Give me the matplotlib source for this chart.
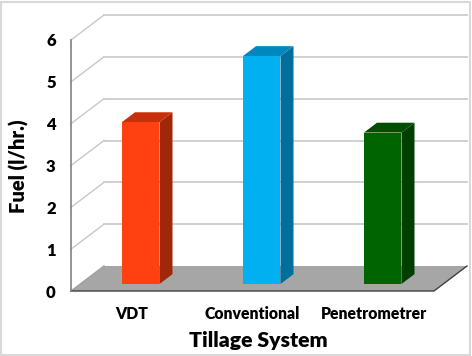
import matplotlib
matplotlib.use("Agg")
import matplotlib.pyplot as plt
from matplotlib.patches import Polygon, Rectangle
import numpy as np

categories = ["VDT", "Conventional", "Penetrometrer"]
values = [3.87, 5.45, 3.62]
front_colors = ["#FF4010", "#00B0F0", "#006400"]
side_colors = ["#A02808", "#006F9A", "#003F00"]
top_colors = ["#C8300C", "#0088BE", "#004F00"]
yticks = [0, 1, 2, 3, 4, 5, 6]

plt.rcParams['font.family'] = ['Lato', 'DejaVu Sans']

W, H = 472, 356
fig = plt.figure(figsize=(W / 100, H / 100), dpi=100)
fig.patch.set_facecolor("white")

# axes placement (pixels)
left_px, right_px, bottom_px, top_px = 71, 466, 291, 15
ax = fig.add_axes([left_px / W, 1 - bottom_px / H, (right_px - left_px) / W, (bottom_px - top_px) / H])
ax.set_facecolor("none")

ncat = len(categories)
px_per_cat = (434 - 71) / ncat
px_per_unit = (291 - 40) / 6.0
dx = 33 / px_per_cat          # depth offset in category units
dy = 25 / px_per_unit         # depth offset in value units
xmin = -0.5
xmax = ncat - 0.5
ax.set_xlim(xmin, xmin + (right_px - left_px) / px_per_cat)
ax.set_ylim(0, (bottom_px - top_px) / px_per_unit)
for s in ax.spines.values():
    s.set_visible(False)

ymax = max(yticks)
# floor
floor = Polygon([(xmin, 0), (xmax, 0), (xmax + dx, dy), (xmin + dx, dy)], closed=True,
                facecolor="#A6A6A6", edgecolor="none", clip_on=False, zorder=1)
ax.add_patch(floor)
ax.plot([xmin, xmax, xmax + dx], [0, 0, dy], color="#404040", lw=1.0, clip_on=False, zorder=2)

# back wall gridlines and side wall diagonals
for v in yticks:
    if v > 0:
        ax.plot([xmin + dx, xmax + dx], [v + dy, v + dy], color="#C8C8C8", lw=1.2, clip_on=False, zorder=0.5)
        ax.plot([xmin, xmin + dx], [v, v + dy], color="#C8C8C8", lw=1.0, clip_on=False, zorder=0.5)
ax.plot([xmin, xmin + dx], [0, dy], color="#A0A0A0", lw=1.0, clip_on=False, zorder=1.5)
# vertical axis line
ax.plot([xmin, xmin], [0, ymax], color="#808080", lw=1.2, clip_on=False, zorder=3)

# bars
d1 = 0.28
bd = 13 / 33
bw = 0.31
x = np.arange(ncat)
xc = x + d1 * dx
base = d1 * dy
ax.bar(xc, values, width=bw, bottom=base, color=front_colors, zorder=5, clip_on=False)
for i, v in enumerate(values):
    r = xc[i] + bw / 2
    l = xc[i] - bw / 2
    ddx, ddy = bd * dx, bd * dy
    side = Polygon([(r, base), (r + ddx, base + ddy), (r + ddx, base + ddy + v), (r, base + v)],
                   closed=True, facecolor=side_colors[i], edgecolor="none", zorder=4, clip_on=False)
    top = Polygon([(l, base + v), (r, base + v), (r + ddx, base + v + ddy), (l + ddx, base + v + ddy)],
                  closed=True, facecolor=top_colors[i], edgecolor="none", zorder=4, clip_on=False)
    ax.add_patch(side)
    ax.add_patch(top)

ax.set_yticks(yticks)
ax.set_yticklabels([str(t) for t in yticks], fontsize=12, fontweight="heavy")
ax.set_xticks(x)
ax.set_xticklabels(categories, fontsize=11.3, fontweight="heavy")
ax.tick_params(axis="y", length=0, pad=11)
ax.tick_params(axis="x", length=0, pad=11)

fig.text(258 / W, 1 - 341 / H, "Tillage System", fontsize=15.3, fontweight="heavy", ha="center", va="center")
fig.text(19 / W, 1 - 166 / H, "Fuel (l/hr.)", fontsize=14.5, fontweight="heavy", ha="center", va="center", rotation=90)

# outer border
fig.patches.append(Rectangle((1 / W, 1 / H), (W - 3) / W, (H - 3) / H, transform=fig.transFigure,
                             fill=False, edgecolor="#D9D9D9", lw=1.5))

fig.savefig("out.png", dpi=100)
